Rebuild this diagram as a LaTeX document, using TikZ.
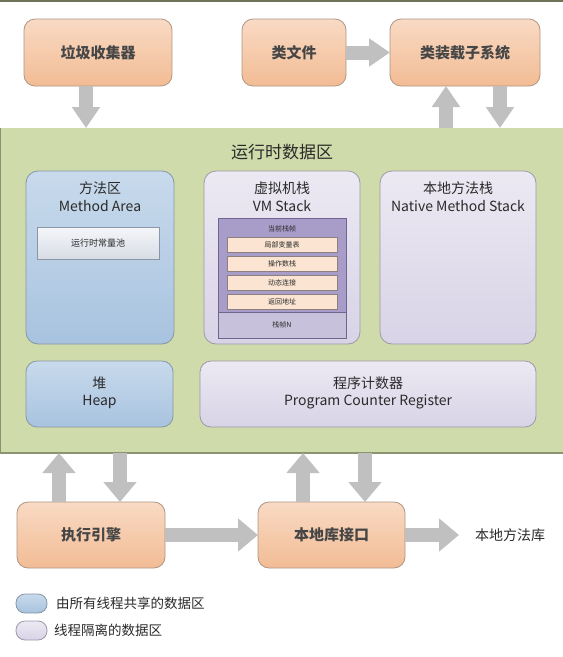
\documentclass[tikz,border=0pt]{standalone}
\usepackage{fontspec}
\setmainfont{Noto Sans CJK SC}
\usetikzlibrary{arrows.meta,calc}

\definecolor{ink}{HTML}{2A2A2A}
\definecolor{engineInk}{HTML}{464646}
\definecolor{orTop}{HTML}{F9DAC4}
\definecolor{orBot}{HTML}{F2BC94}
\definecolor{orLine}{HTML}{AE9585}
\definecolor{grnFill}{HTML}{D0DBAB}
\definecolor{grnLine}{HTML}{8A9470}
\definecolor{topRule}{HTML}{6E7458}
\definecolor{bluTop}{HTML}{C8DAEC}
\definecolor{bluBot}{HTML}{A8C3DF}
\definecolor{bluLine}{HTML}{8796A6}
\definecolor{lavTop}{HTML}{ECE9F3}
\definecolor{lavBot}{HTML}{D8D3E6}
\definecolor{lavLine}{HTML}{9C99A8}
\definecolor{frmFill}{HTML}{A89DC8}
\definecolor{frmLow}{HTML}{C7C1DB}
\definecolor{frmLine}{HTML}{6F6690}
\definecolor{slotFill}{HTML}{FBE5D2}
\definecolor{slotLine}{HTML}{8E8080}
\definecolor{poolTop}{HTML}{F5F6F9}
\definecolor{poolBot}{HTML}{D7DCE5}
\definecolor{poolLine}{HTML}{8A95A5}
\definecolor{arrowGray}{HTML}{C0C0C0}

\tikzset{
  unit/.style={rectangle, outer sep=0pt, inner sep=0pt, anchor=north west},
  engine/.style={unit, rounded corners=11pt, draw=orLine, line width=0.8pt,
    top color=orTop, bottom color=orBot, text=engineInk,
    font=\fontsize{15pt}{18pt}\selectfont\bfseries},
  shared/.style={unit, rounded corners=12pt, draw=bluLine, line width=0.8pt,
    top color=bluTop, bottom color=bluBot},
  private/.style={unit, rounded corners=12pt, draw=lavLine, line width=0.8pt,
    top color=lavTop, bottom color=lavBot},
  caption/.style={align=center, text=ink, inner sep=0pt,
    font=\fontsize{14pt}{17.5pt}\selectfont},
  slot/.style={unit, draw=slotLine, line width=0.6pt, fill=slotFill,
    minimum width=110pt, minimum height=15pt, text=ink,
    font=\fontsize{7pt}{8pt}\selectfont},
  tiny/.style={text=ink, inner sep=0pt, font=\fontsize{7pt}{8pt}\selectfont},
  fat/.style={draw=arrowGray, line width=14pt,
    -{Triangle[width=32pt,length=20pt]}},
  fatsmall/.style={draw=arrowGray, line width=14pt,
    -{Triangle[width=27pt,length=21pt]}},
  legendkey/.style={unit, rounded corners=9pt, line width=0.8pt,
    minimum width=31pt, minimum height=19pt},
  legendtext/.style={anchor=west, inner sep=0pt, text=ink,
    font=\fontsize{13.5pt}{16pt}\selectfont}
}

\begin{document}
\begin{tikzpicture}[x=1pt,y=-1pt]
\useasboundingbox (0,0) rectangle (563,657);
\fill[white] (0,0) rectangle (563,657);
\draw[topRule, line width=1.4pt] (0,0.9) -- (563,0.9);

% runtime data area
\node[unit, fill=grnFill, minimum width=570pt, minimum height=325pt] (rda) at (0.8,128) {};
\draw[grnLine, line width=1.2pt] (rda.north west) -- (rda.south west) -- (rda.south east);
\node[text=ink, inner sep=0pt, font=\fontsize{17pt}{20pt}\selectfont] (rdaT) at (282,152) {运行时数据区};

% top row
\node[engine, minimum width=148pt, minimum height=67pt] (gc) at (24,19) {垃圾收集器};
\node[engine, minimum width=104pt, minimum height=67pt] (cf) at (242,19) {类文件};
\node[engine, minimum width=150pt, minimum height=67pt] (cl) at (390,19) {类装载子系统};

% method area
\node[shared, minimum width=148pt, minimum height=173pt] (ma) at (26,171) {};
\node[caption] (maT) at (100,196.5) {方法区\\Method Area};
\node[unit, draw=poolLine, line width=0.7pt, top color=poolTop, bottom color=poolBot,
  minimum width=122pt, minimum height=32pt, text=ink,
  font=\fontsize{9pt}{10pt}\selectfont] (pool) at (37,227) {运行时常量池};

% VM stack
\node[private, minimum width=156pt, minimum height=173pt] (vm) at (204,171) {};
\node[caption] (vmT) at (282,196.5) {虚拟机栈\\VM Stack};
\node[unit, fill=frmFill, minimum width=128pt, minimum height=120pt] (frame) at (218,218) {};
\fill[frmLow] ([yshift=-94pt]frame.north west) rectangle (frame.south east);
\draw[frmLine, line width=0.8pt] ([yshift=-94pt]frame.north west) -- ([yshift=-94pt]frame.north east);
\draw[frmLine, line width=0.8pt] (frame.north west) rectangle (frame.south east);
\node[tiny] (curT) at (282,229) {当前栈帧};
\node[slot] (s1) at (227,237.5) {局部变量表};
\node[slot] (s2) at (227,256.5) {操作数栈};
\node[slot] (s3) at (227,275.5) {动态连接};
\node[slot] (s4) at (227,294.5) {返回地址};
\node[tiny] (fnT) at (282,325) {栈帧N};

% native method stack
\node[private, minimum width=156pt, minimum height=173pt] (nm) at (380,171) {};
\node[caption] (nmT) at (458,196.5) {本地方法栈\\Native Method Stack};

% heap and program counter
\node[shared, rounded corners=11pt, minimum width=147pt, minimum height=66pt] (hp) at (26,361) {};
\node[caption] (hpT) at (99.5,393) {堆\\Heap};
\node[private, rounded corners=11pt, minimum width=336pt, minimum height=66pt] (pc) at (200,361) {};
\node[caption] (pcT) at (368,393) {程序计数器\\Program Counter Register};

% bottom row
\node[engine, minimum width=148pt, minimum height=66pt] (ee) at (17,502) {执行引擎};
\node[engine, minimum width=147pt, minimum height=66pt] (ni) at (258,502) {本地库接口};
\node[text=ink, anchor=west, inner sep=0pt, font=\fontsize{14pt}{17pt}\selectfont] (lib) at (475,535) {本地方法库};

% connectors
\draw[fatsmall] ([xshift=-12pt]gc.south) -- ([xshift=-12pt]gc.south |- rda.north);
\draw[fatsmall] (cf.east) -- (cl.west);
\draw[fatsmall] ([xshift=-19pt]cl.south |- rda.north) -- ([xshift=-19pt]cl.south);
\draw[fatsmall] ([xshift=35pt]cl.south) -- ([xshift=35pt]cl.south |- rda.north);

\draw[fat] ([xshift=-32pt]ee.north) -- ([xshift=-32pt]ee.north |- rda.south);
\draw[fat] ([xshift=29pt]ee.north |- rda.south) -- ([xshift=29pt]ee.north);
\draw[fat] ([xshift=-28.5pt]ni.north) -- ([xshift=-28.5pt]ni.north |- rda.south);
\draw[fat] ([xshift=33.5pt]ni.north |- rda.south) -- ([xshift=33.5pt]ni.north);
\draw[fat] (ee.east) -- (ni.west);
\draw[fat] (ni.east) -- ([xshift=-16pt]lib.west);

% legend
\node[legendkey, draw=bluLine, top color=bluTop, bottom color=bluBot] (lgA) at (16,594) {};
\node[legendtext] (lgAT) at (56,603.5) {由所有线程共享的数据区};
\node[legendkey, draw=lavLine, top color=lavTop, bottom color=lavBot] (lgB) at (16,621) {};
\node[legendtext] (lgBT) at (54,630.5) {线程隔离的数据区};
\end{tikzpicture}
\end{document}
